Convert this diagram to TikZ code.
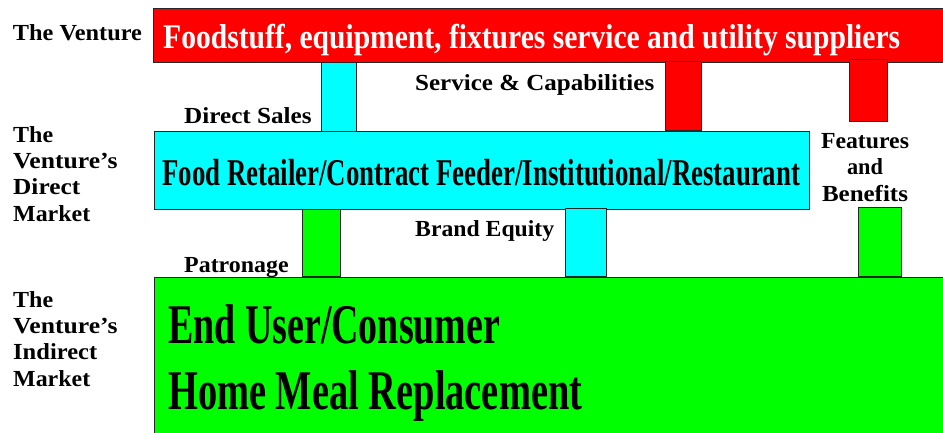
\documentclass[tikz,border=0pt]{standalone}
\usepackage{fontspec}
\usepackage{graphicx}
\setmainfont{Liberation Serif}
% stretch or squeeze a text horizontally to a given width, keeping its height
\newcommand\fitw[2]{\resizebox{#1pt}{\height}{#2}}
\definecolor{supred}{RGB}{255,0,0}
\definecolor{mktcyan}{RGB}{0,255,255}
\definecolor{endgreen}{RGB}{0,255,0}
\tikzset{
  panel/.style={draw=black!85, line width=0.9pt},
  pillar/.style={draw=black!85, line width=0.9pt},
  lbl/.style={anchor=base west, inner sep=0pt, font=\fontsize{23}{26.5}\selectfont\bfseries},
  bigtxt/.style={anchor=base west, inner sep=0pt},
}
\begin{document}
\begin{tikzpicture}[x=1pt,y=-1pt]
\useasboundingbox (0,0) rectangle (943,432);
\begin{scope}
\clip (0,0) rectangle (943,432);
% the three tiers
\path[panel, fill=supred]   (153,8)   rectangle (960,62);
\path[panel, fill=mktcyan]  (154,131) rectangle (809,209);
\path[panel, fill=endgreen] (154,277) rectangle (960,445);
% links between tiers
\path[pillar, fill=mktcyan]  (321,62)  rectangle (356,131);
\path[pillar, fill=supred]   (665,61)  rectangle (701,130);
\path[pillar, fill=supred]   (849,59)  rectangle (887,121);
\path[pillar, fill=endgreen] (302,209) rectangle (340,276);
\path[pillar, fill=mktcyan]  (565,208) rectangle (606,276);
\path[pillar, fill=endgreen] (858,207) rectangle (901,276);
\end{scope}
% tier texts
\node[bigtxt, text=white, font=\fontsize{34.5}{34.5}\selectfont\bfseries] (sup) at (163,48)
  {\fitw{737}{Foodstuff, equipment, fixtures service and utility suppliers}};
\node[bigtxt, font=\fontsize{37.8}{37.8}\selectfont\bfseries] (dir) at (162,185)
  {\fitw{638}{Food Retailer/Contract Feeder/Institutional/Restaurant}};
\node[bigtxt, font=\fontsize{56}{56}\selectfont\bfseries] (eu) at (168,343)
  {\fitw{332}{End User/Consumer}};
\node[bigtxt, font=\fontsize{56}{56}\selectfont\bfseries] (hmr) at (168,409)
  {\fitw{414}{Home Meal Replacement}};
% row captions
\node[lbl] (venture) at (12.7,40.7) {\fitw{129}{The Venture}};
\node[lbl] (dm1) at (13,142) {\fitw{40}{The}};
\node[lbl] (dm2) at (13,168.3) {\fitw{104.5}{Venture’s}};
\node[lbl] (dm3) at (13,194.7) {\fitw{67}{Direct}};
\node[lbl] (dm4) at (13,221) {\fitw{77}{Market}};
\node[lbl] (im1) at (13,307) {\fitw{40}{The}};
\node[lbl] (im2) at (13,333.3) {\fitw{104.5}{Venture’s}};
\node[lbl] (im3) at (13,359.7) {\fitw{84}{Indirect}};
\node[lbl] (im4) at (13,386) {\fitw{77}{Market}};
% link captions
\node[lbl] (ds) at (184,123) {\fitw{127.5}{Direct Sales}};
\node[lbl] (sc) at (415,90) {\fitw{239}{Service \& Capabilities}};
\node[lbl] (be) at (415,236.7) {\fitw{139}{Brand Equity}};
\node[lbl] (pt) at (184,272) {\fitw{104.5}{Patronage}};
\node[lbl, anchor=base] (fb1) at (865,148) {\fitw{88}{Features}};
\node[lbl, anchor=base] (fb2) at (865,174.5) {\fitw{36}{and}};
\node[lbl, anchor=base] (fb3) at (865,201) {\fitw{86}{Benefits}};
\end{tikzpicture}
\end{document}
